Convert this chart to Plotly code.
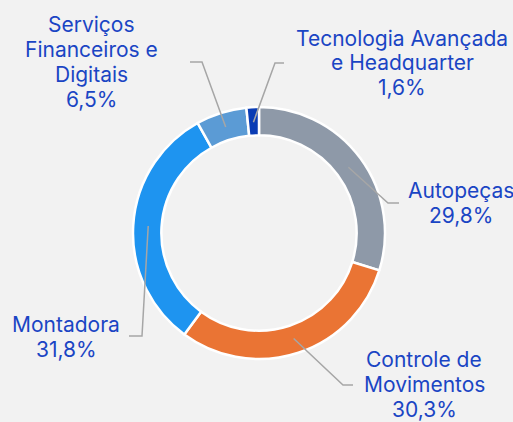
import math
import plotly.graph_objects as go

# ---- data ----
categories = ["Autopeças", "Controle de Movimentos", "Montadora",
              "Serviços Financeiros e Digitais", "Tecnologia Avançada e Headquarter"]
shares = [29.8, 30.3, 31.8, 6.5, 1.6]
label_lines = [["Autopeças"], ["Controle de", "Movimentos"], ["Montadora"],
               ["Serviços", "Financeiros e", "Digitais"],
               ["Tecnologia Avançada", "e Headquarter"]]
colors = ["#8E99A8", "#EA7434", "#1E94F0", "#5B9BD5", "#0A3CB4"]

# ---- layout constants (pixels) ----
W, H = 513, 422
CX, CY, R = 259, 233, 126
HOLE = 0.775
R_LEADER = 111
LINE_STEP = 25
# elbow point, end x, first-line centre per slice
leader_layout = [
    dict(elbow=(388, 203), end_x=399, label=(461, 191)),
    dict(elbow=(343, 385), end_x=353, label=(424, 359)),
    dict(elbow=(142, 336), end_x=129, label=(66, 324)),
    dict(elbow=(202, 62), end_x=190, label=(91, 24)),
    dict(elbow=(275, 63), end_x=284, label=(402, 38)),
]
TEXT_COLOR = "#1A45C4"
LINE_COLOR = "#A6A6A6"
BG = "#F2F2F2"


def px(x):
    return x / W


def py(y):
    return 1 - y / H


fig = go.Figure(go.Pie(
    labels=categories,
    values=shares,
    sort=False,
    direction="clockwise",
    rotation=0,
    hole=HOLE,
    textinfo="none",
    marker=dict(colors=colors, line=dict(color="white", width=2.5)),
    domain=dict(x=[px(CX - R), px(CX + R)], y=[py(CY + R), py(CY - R)]),
    showlegend=False,
))

total = sum(shares)
cum = 0.0
shapes = []
annotations = []
for cat, v, lines, lay in zip(categories, shares, label_lines, leader_layout):
    mid = (cum + v / 2) / total * 2 * math.pi
    cum += v
    sx = CX + R_LEADER * math.sin(mid)
    sy = CY - R_LEADER * math.cos(mid)
    ex, ey = lay["elbow"]
    path = f"M {px(sx)} {py(sy)} L {px(ex)} {py(ey)} L {px(lay['end_x'])} {py(ey)}"
    shapes.append(dict(type="path", xref="paper", yref="paper", path=path,
                       line=dict(color=LINE_COLOR, width=1.5)))
    pct = f"{v:.1f}".replace(".", ",") + "%"
    lx, ly = lay["label"]
    for i, t in enumerate(lines + [pct]):
        annotations.append(dict(x=px(lx), y=py(ly + i * LINE_STEP), xref="paper", yref="paper",
                                text=t, showarrow=False,
                                xanchor="center", yanchor="middle", align="center",
                                font=dict(family="Inter", size=21, color=TEXT_COLOR)))

fig.update_layout(
    width=W, height=H,
    margin=dict(l=0, r=0, t=0, b=0),
    paper_bgcolor=BG, plot_bgcolor=BG,
    shapes=shapes, annotations=annotations,
)

fig.write_html("out.html", config={"displayModeBar": False},
               post_script="document.body.style.margin='0px';document.body.style.overflow='hidden';")
